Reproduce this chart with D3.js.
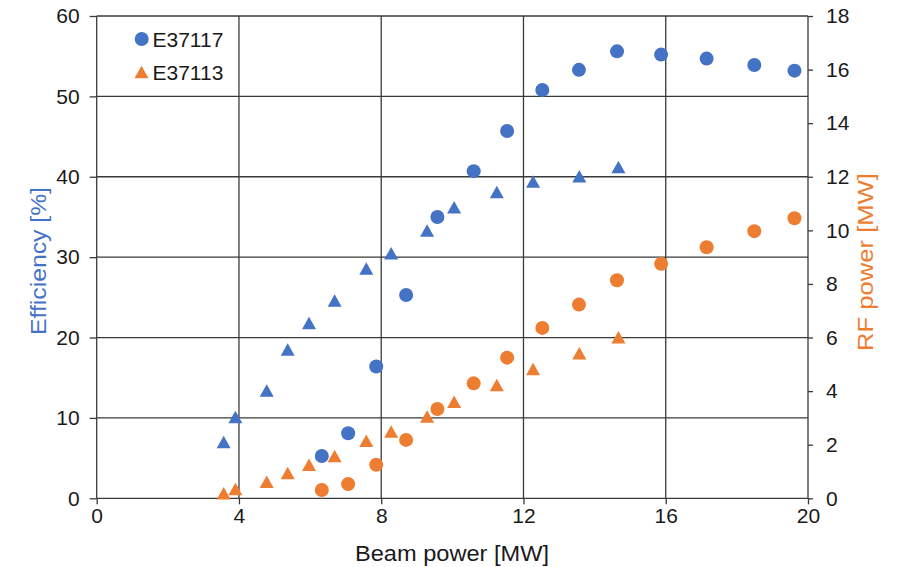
<!doctype html>
<html>
<head>
<meta charset="utf-8">
<title>Efficiency and RF power vs beam power</title>
<script src="https://cdn.jsdelivr.net/npm/d3@7"></script>
<style>
  body { margin: 0; background: #fff; }
  svg text { font-family: "Liberation Sans", Arial, sans-serif; fill: #1a1a1a; }
</style>
</head>
<body>
<svg width="902" height="567"></svg>
<script>
// E37117 (circles)
var e37117Beam = [6.33, 7.07, 7.86, 8.70, 9.58, 10.60, 11.54, 12.53, 13.56, 14.63, 15.87, 17.15, 18.49, 19.62];
var e37117Eff  = [5.27, 8.1, 16.4, 25.3, 35.0, 40.7, 45.7, 50.8, 53.3, 55.6, 55.2, 54.7, 53.9, 53.2];
var e37117Rf   = [0.31, 0.53, 1.25, 2.18, 3.33, 4.29, 5.25, 6.36, 7.23, 8.14, 8.75, 9.37, 9.97, 10.45];
// E37113 (triangles)
var e37113Beam = [3.57, 3.90, 4.78, 5.37, 5.97, 6.69, 7.58, 8.28, 9.29, 10.05, 11.25, 12.27, 13.57, 14.67];
var e37113Eff  = [7.0, 10.1, 13.4, 18.5, 21.8, 24.6, 28.6, 30.5, 33.3, 36.2, 38.1, 39.4, 40.05, 41.2];
var e37113Rf   = [0.19, 0.35, 0.62, 0.94, 1.25, 1.58, 2.15, 2.49, 3.05, 3.6, 4.23, 4.83, 5.41, 6.01];

var xTicks = [0, 4, 8, 12, 16, 20];
var yLeftTicks = [0, 10, 20, 30, 40, 50, 60];
var yRightTicks = [0, 2, 4, 6, 8, 10, 12, 14, 16, 18];

var blue = "#4472C4", orange = "#ED7D31", gridColor = "#3a3a3a";

var svg = d3.select("svg");
// plot box (window.top is reserved, so use other names)
var plotL = 96.7, plotR = 808, plotT = 16, plotB = 498.3;

var x = d3.scaleLinear().domain([0, 20]).range([plotL, plotR]);
var yL = d3.scaleLinear().domain([0, 60]).range([plotB, plotT]);
var yR = d3.scaleLinear().domain([0, 18]).range([plotB, plotT]);

// grid
var grid = svg.append("g").attr("stroke", gridColor).attr("stroke-width", 1.3);
grid.selectAll("line.h").data(yLeftTicks).enter().append("line")
    .attr("x1", plotL).attr("x2", plotR)
    .attr("y1", function (d) { return yL(d); }).attr("y2", function (d) { return yL(d); });
grid.selectAll("line.v").data(xTicks).enter().append("line")
    .attr("y1", plotT).attr("y2", plotB)
    .attr("x1", function (d) { return x(d); }).attr("x2", function (d) { return x(d); });

function styleAxis(g) {
    g.selectAll("path,line").attr("stroke", gridColor).attr("stroke-width", 1.3);
    g.selectAll("text").attr("font-size", 21).attr("fill", "#1a1a1a");
}

svg.append("g").attr("transform", "translate(0," + plotB + ")")
    .call(d3.axisBottom(x).tickValues(xTicks).tickSizeInner(6).tickSizeOuter(0).tickPadding(4))
    .call(styleAxis);
svg.append("g").attr("transform", "translate(" + plotL + ",0)")
    .call(d3.axisLeft(yL).tickValues(yLeftTicks).tickSizeInner(7).tickSizeOuter(0).tickPadding(10))
    .call(styleAxis);
svg.append("g").attr("transform", "translate(" + plotR + ",0)")
    .call(d3.axisRight(yR).tickValues(yRightTicks).tickSizeInner(5).tickSizeOuter(0).tickPadding(13))
    .call(styleAxis);
svg.selectAll(".domain").remove();

// axis titles
svg.append("text").attr("x", 452).attr("y", 560.5).attr("text-anchor", "middle")
    .attr("font-size", 22).attr("textLength", 194).attr("lengthAdjust", "spacingAndGlyphs")
    .text("Beam power [MW]");
svg.append("text").attr("transform", "translate(46,261) rotate(-90)").attr("text-anchor", "middle")
    .attr("font-size", 22).attr("textLength", 148).attr("lengthAdjust", "spacingAndGlyphs")
    .style("fill", blue).text("Efficiency [%]");
svg.append("text").attr("transform", "translate(873,262) rotate(-90)").attr("text-anchor", "middle")
    .attr("font-size", 22).attr("textLength", 178).attr("lengthAdjust", "spacingAndGlyphs")
    .style("fill", orange).text("RF power [MW]");

// markers
var r = 7, tw = 14, th = 12.5;
var tri = "M0," + (-th / 2) + "L" + (tw / 2) + "," + (th / 2) + "L" + (-tw / 2) + "," + (th / 2) + "Z";

function circles(xs, ys, yScale, color) {
    svg.append("g").selectAll("circle").data(xs).enter().append("circle")
        .attr("cx", function (d) { return x(d); })
        .attr("cy", function (d, i) { return yScale(ys[i]); })
        .attr("r", r).attr("fill", color);
}
function triangles(xs, ys, yScale, color) {
    svg.append("g").selectAll("path").data(xs).enter().append("path")
        .attr("d", tri)
        .attr("transform", function (d, i) { return "translate(" + x(d) + "," + yScale(ys[i]) + ")"; })
        .attr("fill", color);
}
circles(e37117Beam, e37117Eff, yL, blue);
triangles(e37113Beam, e37113Eff, yL, blue);
circles(e37117Beam, e37117Rf, yR, orange);
triangles(e37113Beam, e37113Rf, yR, orange);

// legend
var legend = svg.append("g");
legend.append("circle").attr("cx", 141.7).attr("cy", 39).attr("r", r).attr("fill", blue);
legend.append("path").attr("d", tri).attr("transform", "translate(141.5,72)").attr("fill", orange);
legend.append("text").attr("x", 152.5).attr("y", 46.5).attr("font-size", 21).text("E37117");
legend.append("text").attr("x", 152.5).attr("y", 79.5).attr("font-size", 21).text("E37113");
</script>
</body>
</html>
